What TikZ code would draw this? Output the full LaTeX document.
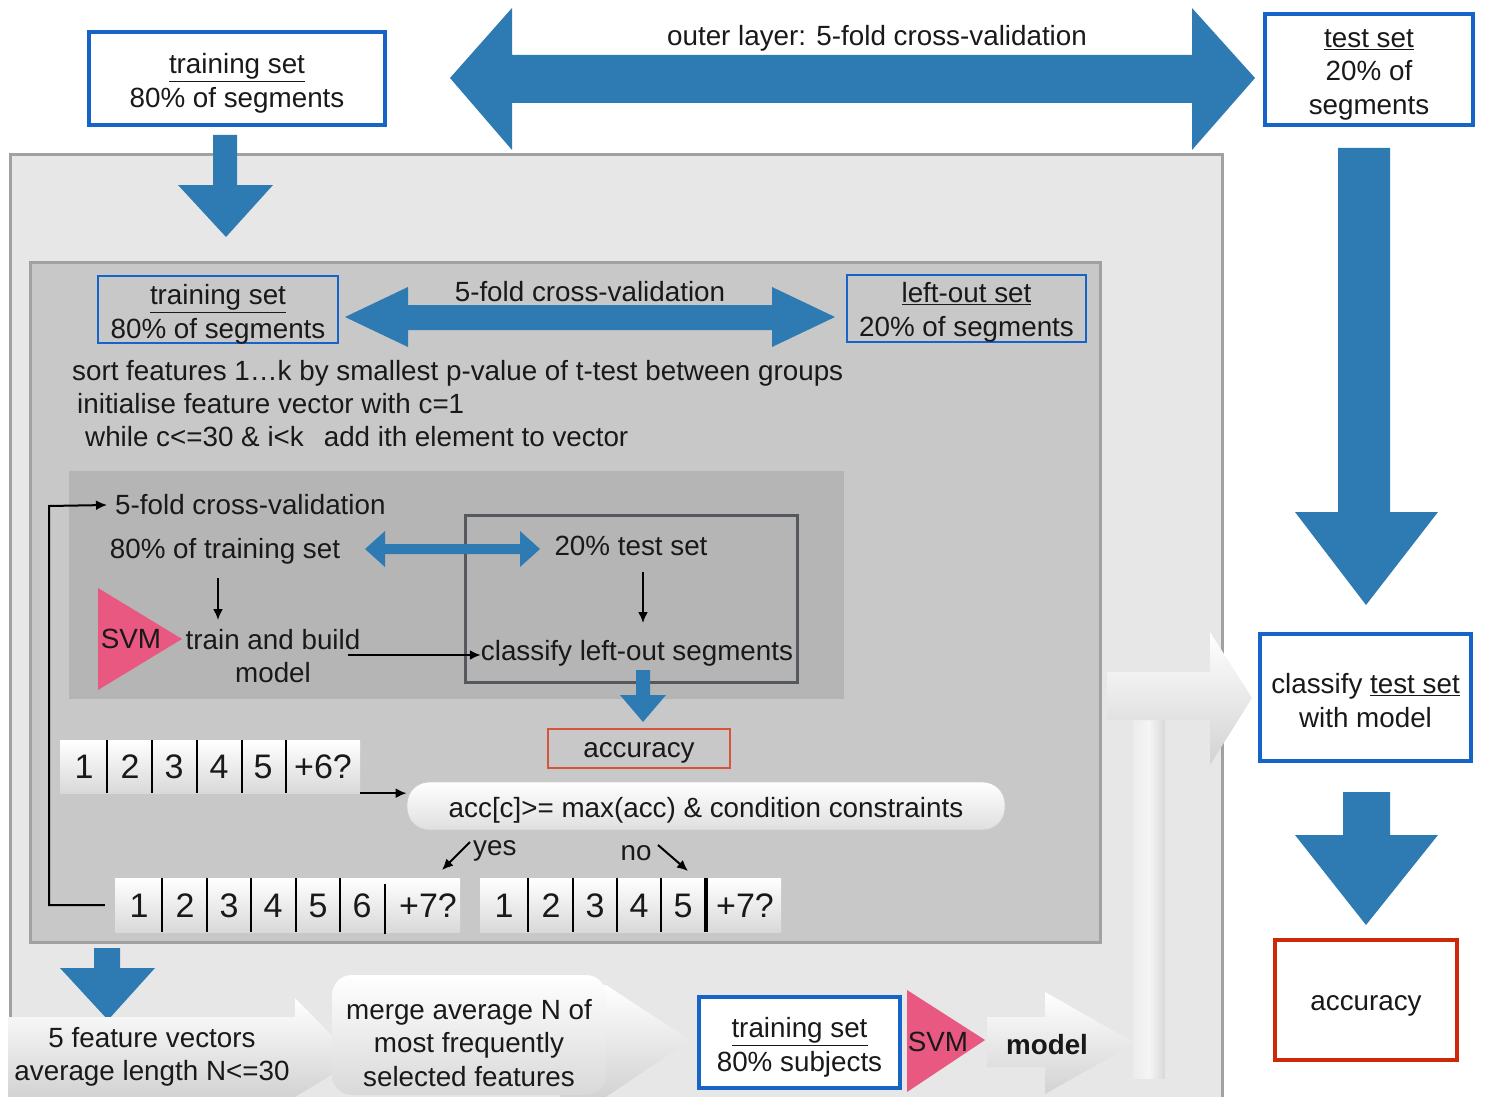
\documentclass[tikz,border=0pt]{standalone}
\usepackage{fontspec}
\setmainfont{Liberation Sans}
\usetikzlibrary{arrows.meta}
\definecolor{bluearr}{RGB}{46,123,180}
\definecolor{boxblue}{RGB}{22,100,200}
\definecolor{panelA}{RGB}{231,231,231}
\definecolor{panelB}{RGB}{200,200,200}
\definecolor{panelC}{RGB}{181,181,181}
\definecolor{panelEdge}{RGB}{160,162,162}
\definecolor{darkedge}{RGB}{85,88,92}
\definecolor{svmpink}{RGB}{232,88,128}
\definecolor{redbox}{RGB}{205,40,10}
\definecolor{txt}{RGB}{25,25,25}
\begin{document}
\begin{tikzpicture}[x=1pt,y=-1pt,
  every node/.style={text=txt,font=\fontsize{27.8}{33.5}\selectfont,inner sep=0pt,align=center},
  thickblue/.style={draw=boxblue,line width=4.5pt,fill=white},
  thinblue/.style={draw=boxblue,line width=1.6pt},
  thickred/.style={draw=redbox,line width=4.5pt,fill=white},
  thinred/.style={draw=redbox!80,line width=1.2pt},
  cellrow/.style={top color=white,bottom color=gray!30,draw=none},
  cellnum/.style={font=\fontsize{34}{40}\selectfont},
  arr/.style={line width=2pt,-{Latex[length=11pt,width=10pt]}},
  bluefill/.style={fill=bluearr},
  greyarrow/.style={top color=white,bottom color=gray!35,draw=none},
  panel/.style={draw=panelEdge,line width=3pt}
]
\useasboundingbox (0,0) rectangle (1489,1097);
\fill[white] (0,0) rectangle (1489,1097);

% outer panel
\draw[panel,fill=panelA] (10,155) rectangle (1222,1102);

% top double arrow
\fill[bluefill] (450,78) -- (512,8) -- (512,55) -- (1192,55) -- (1192,8) -- (1255,78)
  -- (1192,150) -- (1192,103) -- (512,103) -- (512,150) -- cycle;
\node (outerlbl) at (877,38) {outer layer: 5-fold cross-validation};

% top boxes
\node[thickblue,minimum width=296pt,minimum height=93pt] (trainTop) at (237,78.5) {};
\node (trainTopT) at ([yshift=-5pt]trainTop.center) {\underline{training set}\\80\% of segments};
\node[thickblue,minimum width=208pt,minimum height=111pt] (testTop) at (1369,69.5) {};
\node (testTopT) at ([yshift=-5pt]testTop.center) {\underline{test set}\\20\% of\\segments};

% down arrow from training box
\fill[bluefill] (213,135) -- (237,135) -- (237,185) -- (273,185) -- (226,237) -- (178,185) -- (213,185) -- cycle;

% right column arrows
\fill[bluefill] (1338,148) -- (1390,148) -- (1390,512) -- (1438,512) -- (1366,605) -- (1295,512) -- (1338,512) -- cycle;
\node[thickblue,minimum width=211pt,minimum height=127pt] (classifyR) at (1365.5,697.5) {};
\node (classifyRT) at ([yshift=-3pt]classifyR.center) {classify \underline{test set}\\with model};
\fill[bluefill] (1343,792) -- (1390,792) -- (1390,835) -- (1438,835) -- (1366,925) -- (1295,835) -- (1343,835) -- cycle;
\node[thickred,minimum width=182pt,minimum height=120pt] (accR) at (1366,1000) {};
\node (accRT) at ([yshift=-6pt]accR.center) {accuracy};

% middle panel
\draw[panel,fill=panelB] (30,262) rectangle (1100,942);
\node[thinblue,minimum width=240pt,minimum height=67pt] (trainIn) at (218,309.5) {};
\node (trainInT) at ([yshift=-5pt]trainIn.center) {\underline{training set}\\80\% of segments};
\node[thinblue,minimum width=239pt,minimum height=67pt] (leftout) at (966.5,308.5) {};
\node (leftoutT) at ([yshift=-4pt]leftout.center) {\underline{left-out set}\\20\% of segments};
\fill[bluefill] (345,317) -- (408,287) -- (408,305) -- (772,305) -- (772,287) -- (835,317)
  -- (772,347) -- (772,330) -- (408,330) -- (408,347) -- cycle;
\node (cvlbl) at (590,292) {5-fold cross-validation};
\node[anchor=west] (sortt) at (72,373) {sort features 1\ldots k by smallest p-value of t-test between groups};
\node[anchor=west] (initt) at (77,404) {initialise feature vector with c=1};
\node[anchor=west] (whilet) at (85,437) {while c<=30 \& i<k\hspace{20pt}add ith element to vector};

% inner panel
\draw[draw=panelEdge!80,line width=3pt,fill=panelC] (70,472) rectangle (842,697);
\draw[draw=darkedge,line width=3pt] (465,515) rectangle (797,682);
\node[anchor=west] (cv5) at (115,505) {5-fold cross-validation};
\node (pct80) at (225,551) {80\% of training set};
\node (test20) at (631,546) {20\% test set};
\fill[bluefill] (365,549) -- (385,531) -- (385,544) -- (520,544) -- (520,531) -- (540,549)
  -- (520,567) -- (520,554) -- (385,554) -- (385,567) -- cycle;
\fill[svmpink] (98,588) -- (182,639) -- (98,690) -- cycle;
\node (svmIn) at (131,639) {SVM};
\node (trainbuild) at (273,656) {train and build\\model};
\node (classify) at (637,653) {classify left-out segments};
\draw[arr] (218,578) -- (218,620);
\draw[arr] (643,572) -- (643,623);
\draw[arr] (348,655) -- (classify.west |- 0,655);

\fill[bluefill] (636,670) -- (650,670) -- (650,695) -- (666,695) -- (643,722) -- (620,695) -- (636,695) -- cycle;
\node[thinred,fill=panelB,minimum width=182pt,minimum height=39pt] (accIn) at (639,748.5) {};
\node (accInT) at ([yshift=-4pt]accIn.center) {accuracy};

% feature vector rows
\node[cellrow,minimum width=300pt,minimum height=53pt] (row1) at (210,766.5) {};
\foreach \x in {107,152,197,242,286} \draw[line width=2pt] (\x,740) -- (\x,793);
\foreach \t/\x in {1/84,2/130,3/174,4/219,5/263,+6?/323}
  \node[cellnum] at (\x,767) {\t};

\node[draw=gray!40,line width=0.8pt,top color=white,bottom color=gray!25,rounded corners=22pt,
  minimum width=598pt,minimum height=48pt] (cond) at (706,806) {};
\node (condT) at ([yshift=-4pt]cond.center) {acc[c]>= max(acc) \& condition constraints};
\draw[arr] (row1.south east) -- (row1.south east -| cond.west);

\node[anchor=west] (yes) at (473,851) {yes};
\node (no) at (636,853) {no};
\draw[arr] (470,842) -- (442,870);
\draw[arr] (658,845) -- (688,871);

\node[cellrow,minimum width=345pt,minimum height=54pt] (row2) at (287.5,905) {};
\foreach \x in {162,207,251,296,340} \draw[line width=2pt] (\x,878) -- (\x,932);
\draw[line width=2pt] (385,884) -- (385,934);
\foreach \t/\x in {1/139,2/185,3/229,4/273,5/318,6/362,+7?/428}
  \node[cellnum] at (\x,906) {\t};

\node[cellrow,minimum width=301pt,minimum height=54pt] (row3) at (630.5,905) {};
\foreach \x in {528,573,617,661} \draw[line width=2pt] (\x,878) -- (\x,932);
\draw[line width=3.5pt] (706,878) -- (706,932);
\foreach \t/\x in {1/504,2/551,3/595,4/639,5/683,+7?/745}
  \node[cellnum] at (\x,906) {\t};

% feedback loop
\draw[line width=2pt,-{Latex[length=11pt,width=10pt]}] ([xshift=-10pt]row2.west) -| (49,506) -- ([xshift=-8pt]cv5.west);

% bottom blue arrow
\fill[bluefill] (94,948) -- (120,948) -- (120,968) -- (155,968) -- (108,1020) -- (60,968) -- (94,968) -- cycle;

% bottom grey flow
\shade[greyarrow] (8,1017) -- (295,1017) -- (295,998) -- (356,1060) -- (295,1097) -- (8,1097) -- cycle;
\node (feat5) at (152,1057) {5 feature vectors\\average length N<=30};
\shade[greyarrow] (560,985) -- (606,985) -- (690,1040) -- (606,1097) -- (560,1097) -- cycle;
\node[top color=white,bottom color=gray!30,rounded corners=20pt,minimum width=274pt,minimum height=120pt] (merge) at (469,1035) {};
\node (mergeT) at ([yshift=-8pt]merge.center) {merge average N of\\most frequently\\selected features};
\node[thickblue,minimum width=201pt,minimum height=91pt] (trainBot) at (799.5,1042.5) {};
\node (trainBotT) at ([yshift=-5pt]trainBot.center) {\underline{training set}\\80\% subjects};
\fill[svmpink] (907,990) -- (985,1040) -- (907,1092) -- cycle;
\node (svmBot) at (938,1042) {SVM};
\shade[greyarrow] (987,1017) -- (1045,1017) -- (1045,992) -- (1135,1043) -- (1045,1094) -- (1045,1067) -- (987,1067) -- cycle;
\node (model) at (1047,1045) {\bfseries model};

% vertical bar and big grey arrow into classify box
\shade[left color=gray!15,right color=gray!30,middle color=gray!8] (1133,675) rectangle (1165,1078);
\shade[greyarrow] (1107,672) -- (1210,672) -- (1210,632) -- (1252,698) -- (1210,765) -- (1210,720) -- (1107,720) -- cycle;
\end{tikzpicture}
\end{document}
